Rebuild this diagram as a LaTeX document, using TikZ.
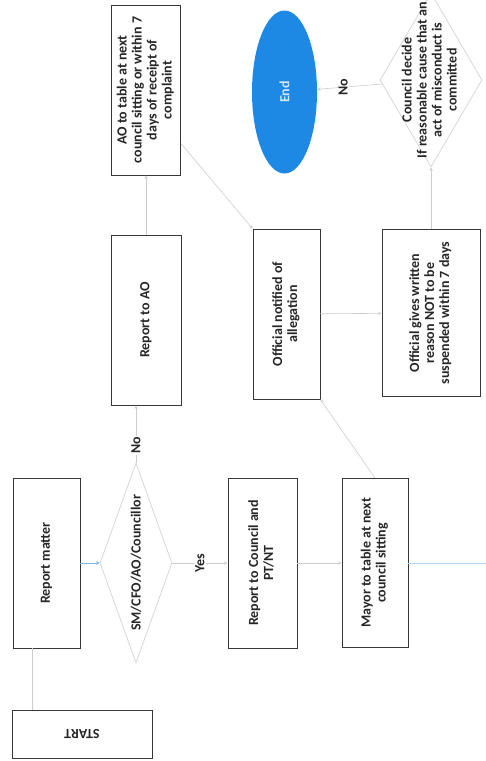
\documentclass[tikz,border=0pt]{standalone}
\usepackage{fontspec}
\setmainfont{Carlito}
\usepackage{tikz}
\usetikzlibrary{arrows,shapes,positioning}
\usepackage{xcolor}
\definecolor{fcblue}{RGB}{30,136,229}
\definecolor{fcedge}{RGB}{55,55,55}
\definecolor{fclink}{RGB}{205,205,205}
\definecolor{fclinkblue}{RGB}{120,180,220}
\definecolor{fcdiamond}{RGB}{215,215,215}
\tikzstyle{process} = [rectangle, rotate=90, text centered, draw=fcedge, line width=0.8pt, text=black!85, font=\fontsize{14}{15}\selectfont\bfseries]
\tikzstyle{decision} = [diamond, rotate=90, text centered, draw=fcdiamond, line width=0.8pt, text=black!85, font=\fontsize{14}{15}\selectfont\bfseries]
\tikzstyle{terminal} = [ellipse, rotate=90, fill=fcblue, draw=none, text=white!80!fcblue, font=\fontsize{14}{15}\selectfont\bfseries]
\tikzstyle{arrow} = [semithick,->,>=stealth,color=fclink]
\tikzstyle{link} = [semithick,color=fclink]
\tikzstyle{tag} = [rotate=90, fill=white, inner sep=1pt, text=black!85, font=\fontsize{14}{15}\selectfont\bfseries]

\begin{document}
\begin{tikzpicture}[x=1pt, y=-1pt]
\useasboundingbox (0,0) rectangle (486,761);

\node (start) [process, rotate=90, minimum width=140pt, minimum height=48pt] at (82,734) {START};

\node (report) [process, minimum width=170pt, minimum height=67pt] at (46.5,563) {Report matter};

\node (smdec) [decision, aspect=2.78, inner sep=2.7pt, minimum width=200pt, minimum height=72pt] at (136,563) {SM/CFO/AO/Councillor};

\node (reportao) [process, minimum width=170pt, minimum height=70pt] at (146,320) {Report to AO};

\node (aotable) [process, minimum width=170pt, minimum height=69pt] at (146,90) {
\begin{tabular}{c}
AO to table at next\\
council sitting or within 7\\
days of receipt of\\
complaint
\end{tabular}
};

\node (council) [process, minimum width=170pt, minimum height=69pt] at (262.5,563) {
\begin{tabular}{c}
Report to Council and\\
PT/NT
\end{tabular}
};

\node (mayor) [process, minimum width=169pt, minimum height=66pt] at (375,563) {
\begin{tabular}{c}
Mayor to table at next\\
council sitting
\end{tabular}
};

\node (notified) [process, minimum width=170pt, minimum height=67pt] at (286.5,314) {
\begin{tabular}{c}
Official notified of\\
allegation
\end{tabular}
};

\node (gives) [process, minimum width=167pt, minimum height=98pt] at (431,313) {
\begin{tabular}{c}
Official gives written\\
reason NOT to be\\
suspended within 7 days
\end{tabular}
};

\node (decide) [decision, aspect=1.7, inner sep=-18pt, minimum width=174pt, minimum height=102pt] at (431,80) {
\begin{tabular}{c}
Council decide\\
If reasonable cause that an\\
act of misconduct is\\
committed
\end{tabular}
};

\node (finish) [terminal, minimum width=163pt, minimum height=65pt] at (284.5,92) {End};

\coordinate (offpage) at (486,563);

\draw[link] ([xshift=-50pt]start.south) -- ([xshift=-50pt]start.south |- report.west);
\draw[arrow, color=fclinkblue] (report) -- (smdec);
\draw[arrow] (smdec.east) -- node[tag, pos=0.3] {No} (smdec.east |- reportao.west);
\draw[arrow] (smdec) -- node[tag] {Yes} (council);
\draw[arrow] (reportao) -- (aotable);
\draw[arrow] (council) -- (mayor);
\draw[link, color=fclinkblue!60] (mayor) -- (offpage);
\draw[arrow] ([yshift=32pt]aotable.south west) -- (notified.north east);
\draw[arrow] (mayor.east) -- (notified.south west);
\draw[arrow] (notified) -- (gives);
\draw[arrow] (gives) -- (decide);
\draw[arrow] (decide) -- node[tag, pos=0.6] {No} (finish);
\end{tikzpicture}
\end{document}
